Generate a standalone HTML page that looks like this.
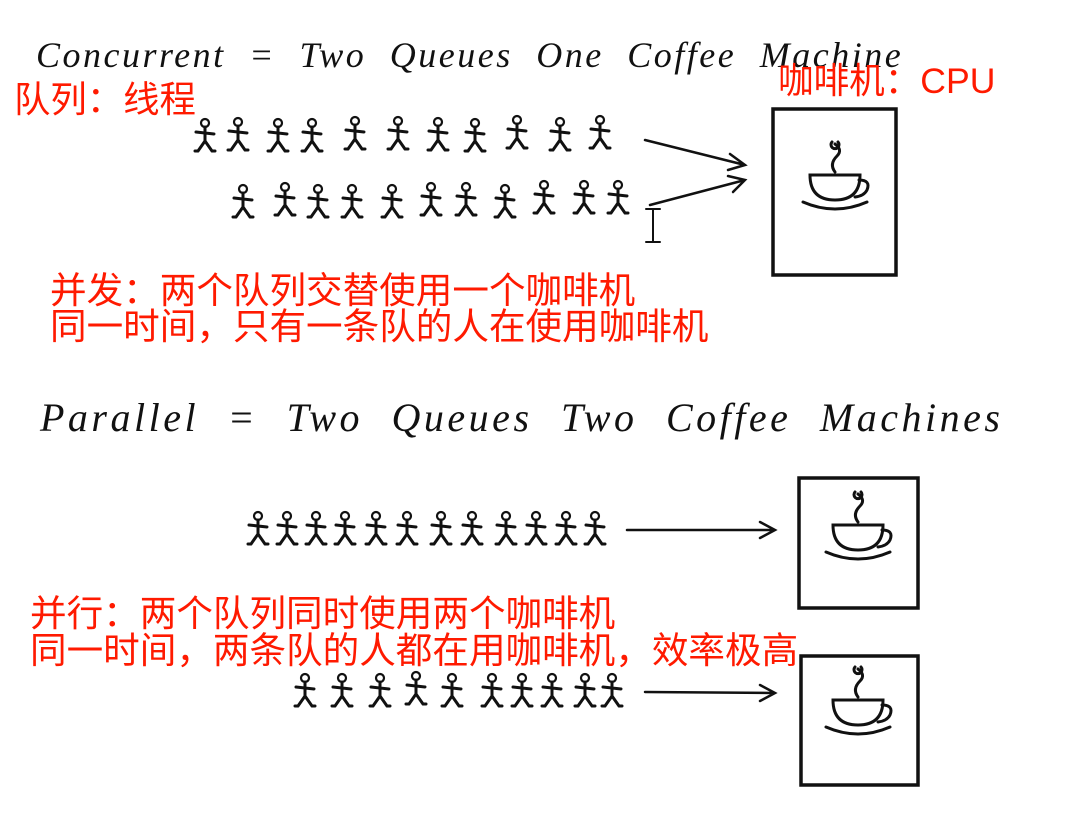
<!DOCTYPE html>
<html><head><meta charset="utf-8"><style>
html,body{margin:0;padding:0;background:#fff;width:1078px;height:816px;overflow:hidden;position:relative}
.hw{position:absolute;font-family:"Liberation Serif",serif;font-style:italic;color:#111;font-size:36px;letter-spacing:2.5px;word-spacing:12px;white-space:nowrap}
.red{position:absolute;color:#ff1a00;font-family:"Liberation Sans","Noto Sans CJK SC",sans-serif;font-size:36.6px;white-space:nowrap;line-height:37px}
svg{position:absolute;left:0;top:0}
</style></head><body>
<div class="hw" style="left:36px;top:34px">Concurrent = Two Queues One Coffee Machine</div>
<div class="hw" style="left:40px;top:394px;font-size:40px;letter-spacing:3.5px;word-spacing:15px">Parallel = Two Queues Two Coffee Machines</div>
<div class="red" style="left:14px;top:81px;font-size:36.4px">队列：线程</div>
<div class="red" style="left:778px;top:63px;font-size:35.6px">咖啡机：CPU</div>
<div class="red" style="left:50px;top:272px">并发：两个队列交替使用一个咖啡机</div>
<div class="red" style="left:50px;top:308px">同一时间，只有一条队的人在使用咖啡机</div>
<div class="red" style="left:30px;top:595px">并行：两个队列同时使用两个咖啡机</div>
<div class="red" style="left:30px;top:632px">同一时间，两条队的人都在用咖啡机，效率极高</div>
<svg width="1078" height="816" viewBox="0 0 1078 816">
<defs>
<g id="p" fill="none" stroke="#111" stroke-width="3" stroke-linecap="round">
<circle cx="0" cy="-14" r="4" stroke-width="2.2"/>
<path d="M0 -10 V4 M-9 -5 L9 -3 M0 4 L-7 14 M0 4 L7 14 M-7 14 h-3 M7 14 h3"/>
</g>
<g id="cup" fill="none" stroke="#111" stroke-width="3" stroke-linecap="round">
<path d="M-25 -5 Q-25 20 0 20 Q25 20 25 -5 Z"/>
<path d="M24 0 q12 0 8 10 q-3 6 -12 7"/>
<path d="M-32 22 Q0 36 32 22"/>
<path d="M0 -8 q-6 -8 2 -16 q6 -6 -2 -12 M-3 -38 a4 4 0 1 0 6 0"/>
</g>
</defs>
<g>
<use href="#p" x="205" y="137"/><use href="#p" x="238" y="136"/><use href="#p" x="278" y="137"/><use href="#p" x="312" y="137"/><use href="#p" x="355" y="135"/><use href="#p" x="398" y="135"/><use href="#p" x="438" y="136"/><use href="#p" x="475" y="137"/><use href="#p" x="517" y="134"/><use href="#p" x="560" y="136"/><use href="#p" x="600" y="134"/>
</g>
<g>
<use href="#p" x="243" y="203"/><use href="#p" x="285" y="201"/><use href="#p" x="318" y="203"/><use href="#p" x="352" y="203"/><use href="#p" x="392" y="203"/><use href="#p" x="431" y="201"/><use href="#p" x="466" y="201"/><use href="#p" x="505" y="203"/><use href="#p" x="544" y="199"/><use href="#p" x="584" y="199"/><use href="#p" x="618" y="199"/>
</g>
<g>
<use href="#p" x="258" y="530"/><use href="#p" x="287" y="530"/><use href="#p" x="316" y="530"/><use href="#p" x="345" y="530"/><use href="#p" x="376" y="530"/><use href="#p" x="407" y="530"/><use href="#p" x="441" y="530"/><use href="#p" x="472" y="530"/><use href="#p" x="506" y="530"/><use href="#p" x="536" y="530"/><use href="#p" x="566" y="530"/><use href="#p" x="595" y="530"/>
</g>
<g>
<use href="#p" x="305" y="692"/><use href="#p" x="342" y="692"/><use href="#p" x="380" y="692"/><use href="#p" x="416" y="690"/><use href="#p" x="452" y="692"/><use href="#p" x="492" y="692"/><use href="#p" x="522" y="692"/><use href="#p" x="552" y="692"/><use href="#p" x="585" y="692"/><use href="#p" x="612" y="692"/>
</g>
<g fill="none" stroke="#111" stroke-width="2.5" stroke-linecap="round">
<path d="M645 140 L745 165 M730 154 L745 165 L728 170"/>
<path d="M650 205 L745 180 M728 176 L745 180 L733 192"/>
<path d="M627 530 L775 530 M760 522 L775 530 L760 538"/>
<path d="M645 692 L775 693 M760 685 L775 693 L760 701"/>
<path d="M653 209 V242 M646 209 h14 M646 242 h14" stroke-width="2"/>
</g>
<g fill="none" stroke="#111" stroke-width="3.5">
<rect x="773" y="109" width="123" height="166"/>
<rect x="799" y="478" width="119" height="130"/>
<rect x="801" y="656" width="117" height="129"/>
</g>
<use href="#cup" x="835" y="180"/>
<use href="#cup" x="858" y="530"/>
<use href="#cup" x="858" y="705"/>
</svg>
</body></html>
